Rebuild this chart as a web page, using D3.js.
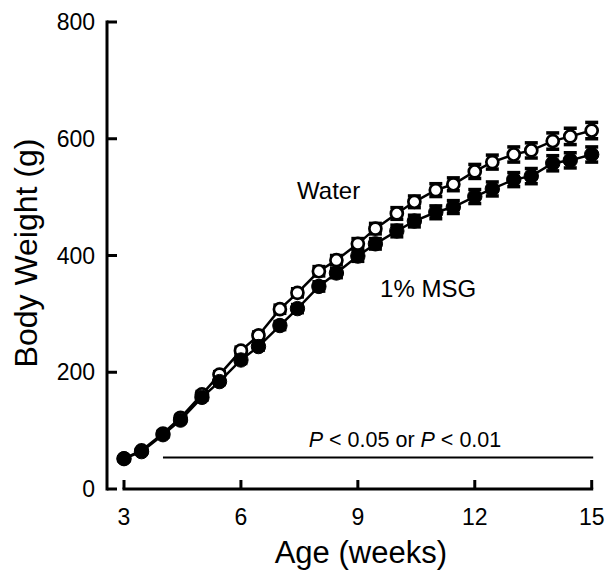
<!DOCTYPE html>
<html>
<head>
<meta charset="utf-8">
<script src="https://cdn.jsdelivr.net/npm/d3@7"></script>
<style>
  html, body { margin: 0; padding: 0; background: #fff; }
  text { font-family: "Liberation Sans", Arial, sans-serif; fill: #000; }
</style>
</head>
<body>
<div id="chart"></div>
<script>
// ages in weeks (measured twice a week)
const ages = [3, 3.45, 4, 4.45, 5, 5.45, 6, 6.45, 7, 7.45, 8, 8.45, 9, 9.45, 10, 10.45, 11, 11.45, 12, 12.45, 13, 13.45, 14, 14.45, 15];

// body weight (g)
const water = [52, 66, 95, 122, 162, 196, 237, 263, 308, 336, 373, 392, 420, 446, 472, 492, 512, 522, 544, 560, 573, 580, 596, 604, 614];
const msg = [52, 64, 93, 118, 157, 184, 221, 244, 280, 309, 347, 370, 399, 420, 442, 459, 474, 483, 501, 514, 530, 536, 558, 563, 573];

// standard errors
const waterSem = [3, 3, 4, 4, 5, 5, 6, 6, 7, 7, 8, 8, 9, 9, 10, 10, 11, 11, 12, 12, 13, 13, 14, 14, 14];
const msgSem = [3, 3, 4, 4, 5, 5, 6, 6, 7, 7, 8, 8, 9, 9, 10, 10, 11, 11, 12, 12, 12, 13, 13, 13, 13];

const xTicks = [3, 6, 9, 12, 15];
const yTicks = [0, 200, 400, 600, 800];

// significance bar (weeks 4 to 15)
const sigRange = [4, 15];
const sigLevel = 54;

const width = 607;
const height = 570;

const svg = d3.select("#chart")
    .append("svg")
    .attr("width", width)
    .attr("height", height);

const x = d3.scaleLinear().domain([3, 15]).range([124, 591.7]);
const y = d3.scaleLinear().domain([0, 800]).range([489, 22]);

// y axis (ticks point inward, axis offset left of the x axis)
const yAxisX = 107;
svg.append("line")
    .attr("x1", yAxisX).attr("x2", yAxisX)
    .attr("y1", y(800) - 1.5).attr("y2", y(0) + 1.5)
    .attr("stroke", "#000").attr("stroke-width", 3);

svg.append("g").selectAll("line")
    .data(yTicks)
    .enter().append("line")
    .attr("x1", yAxisX).attr("x2", yAxisX + 10)
    .attr("y1", d => y(d)).attr("y2", d => y(d))
    .attr("stroke", "#000").attr("stroke-width", 3);

svg.append("g").selectAll("text")
    .data(yTicks)
    .enter().append("text")
    .attr("x", 95)
    .attr("y", d => y(d) + 8)
    .attr("text-anchor", "end")
    .attr("font-size", 23)
    .text(d => d);

// x axis
const xAxisY = 489;
svg.append("line")
    .attr("x1", x(3) - 1.5).attr("x2", x(15) + 1.5)
    .attr("y1", xAxisY).attr("y2", xAxisY)
    .attr("stroke", "#000").attr("stroke-width", 3);

svg.append("g").selectAll("line")
    .data(xTicks)
    .enter().append("line")
    .attr("x1", d => x(d)).attr("x2", d => x(d))
    .attr("y1", xAxisY).attr("y2", xAxisY - 9)
    .attr("stroke", "#000").attr("stroke-width", 3);

svg.append("g").selectAll("text")
    .data(xTicks)
    .enter().append("text")
    .attr("x", d => x(d))
    .attr("y", 525)
    .attr("text-anchor", "middle")
    .attr("font-size", 23)
    .text(d => d);

// axis titles
svg.append("text")
    .attr("x", (x(3) + x(15)) / 2 + 3)
    .attr("y", 563)
    .attr("text-anchor", "middle")
    .attr("font-size", 31)
    .text("Age (weeks)");

svg.append("text")
    .attr("transform", "translate(37," + 253 + ") rotate(-90)")
    .attr("text-anchor", "middle")
    .attr("font-size", 32)
    .text("Body Weight (g)");

// series
function drawSeries(values, sems, filled) {
    const pts = ages.map((a, i) => ({ age: a, v: values[i], se: sems[i] }));
    const g = svg.append("g");

    g.append("path")
        .datum(pts)
        .attr("fill", "none")
        .attr("stroke", "#000")
        .attr("stroke-width", 2.5)
        .attr("d", d3.line().x(d => x(d.age)).y(d => y(d.v)));

    // error bars
    const eb = g.append("g").selectAll("g")
        .data(pts)
        .enter().append("g");
    eb.append("line")
        .attr("x1", d => x(d.age)).attr("x2", d => x(d.age))
        .attr("y1", d => y(d.v + d.se)).attr("y2", d => y(d.v - d.se))
        .attr("stroke", "#000").attr("stroke-width", 3);
    [1, -1].forEach(s => {
        eb.append("line")
            .attr("x1", d => x(d.age) - 6.5).attr("x2", d => x(d.age) + 6.5)
            .attr("y1", d => y(d.v + s * d.se)).attr("y2", d => y(d.v + s * d.se))
            .attr("stroke", "#000").attr("stroke-width", 3.5);
    });

    g.append("g").selectAll("circle")
        .data(pts)
        .enter().append("circle")
        .attr("cx", d => x(d.age))
        .attr("cy", d => y(d.v))
        .attr("r", filled ? 7.2 : 6)
        .attr("fill", filled ? "#000" : "#fff")
        .attr("stroke", "#000")
        .attr("stroke-width", filled ? 1 : 2.7);
}

drawSeries(water, waterSem, false);
drawSeries(msg, msgSem, true);

// labels
svg.append("text")
    .attr("x", x(7.44)).attr("y", y(497))
    .attr("font-size", 24)
    .text("Water");

svg.append("text")
    .attr("x", x(9.57)).attr("y", y(329))
    .attr("font-size", 24)
    .text("1% MSG");

// significance line and note
svg.append("line")
    .attr("x1", x(sigRange[0])).attr("x2", x(sigRange[1]) + 1.5)
    .attr("y1", y(sigLevel)).attr("y2", y(sigLevel))
    .attr("stroke", "#000").attr("stroke-width", 2);

const note = svg.append("text")
    .attr("x", 405)
    .attr("y", y(72))
    .attr("text-anchor", "middle")
    .attr("font-size", 21.5);
note.append("tspan").attr("font-style", "italic").text("P");
note.append("tspan").text(" < 0.05 or ");
note.append("tspan").attr("font-style", "italic").text("P");
note.append("tspan").text(" < 0.01");
</script>
</body>
</html>
